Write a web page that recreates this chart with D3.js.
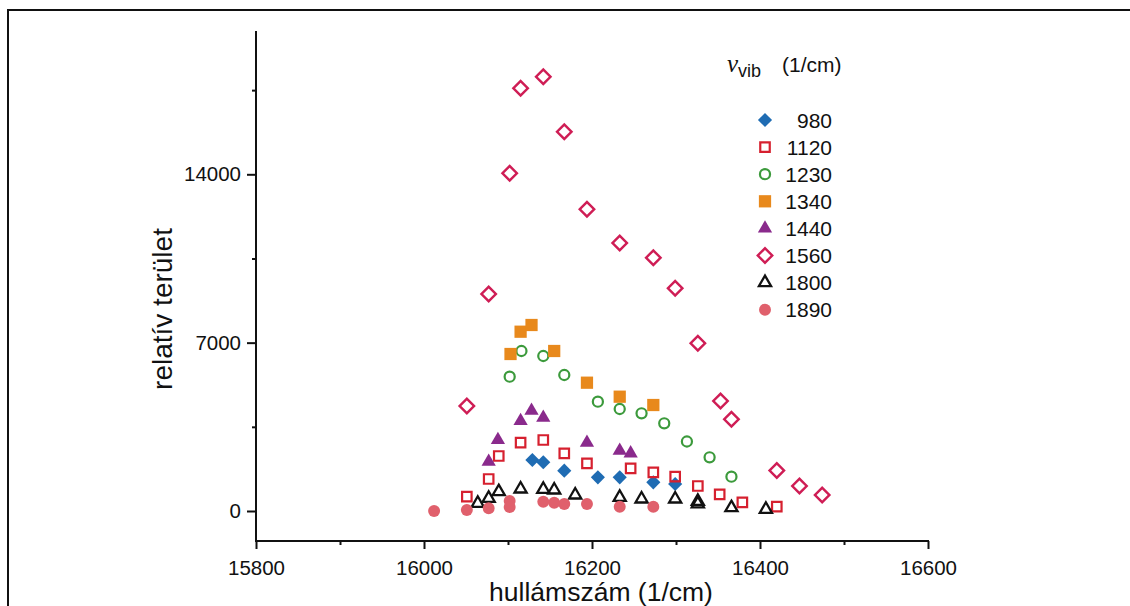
<!DOCTYPE html>
<html><head><meta charset="utf-8">
<script src="https://cdn.jsdelivr.net/npm/d3@7"></script>
<style>body{margin:0;background:#fff}svg{display:block}text{font-family:"Liberation Sans",Arial,sans-serif;fill:#111}</style>
</head><body><svg id="c" width="1130" height="606"></svg>
<script>
// ---- data ----
const seriesNames = ["980","1120","1230","1340","1440","1560","1800","1890"];
const s980 = [[16129,2121],[16142,2025],[16167,1676],[16207,1401],[16233,1401],[16273,1193],[16299,1123]];
const s1120 = [[16051,595],[16077,1331],[16089,2287],[16115,2840],[16142,2952],[16167,2399],[16194,1983],[16246,1775],[16273,1609],[16299,1426],[16326,1040],[16352,694],[16379,362],[16420,179]];
const s1230 = [[16102,5584],[16116,6653],[16142,6445],[16167,5655],[16207,4545],[16233,4241],[16259,4062],[16286,3647],[16313,2890],[16340,2233],[16366,1426]];
const s1340 = [[16103,6528],[16115,7455],[16128,7734],[16155,6653],[16194,5335],[16233,4753],[16273,4407]];
const s1440 = [[16077,2050],[16088,2952],[16115,3742],[16128,4170],[16142,3879],[16194,2840],[16233,2507],[16246,2399]];
const s1560 = [[16051,4366],[16077,9023],[16102,14042],[16115,17576],[16142,18058],[16167,15771],[16194,12545],[16233,11143],[16273,10532],[16299,9260],[16326,6973],[16353,4574],[16366,3813],[16420,1684],[16447,1040],[16474,665]];
const s1800 = [[16064,320],[16077,528],[16089,802],[16115,915],[16142,902],[16155,873],[16180,665],[16233,570],[16259,499],[16299,499],[16326,400],[16326,300],[16366,137],[16407,71]];
const s1890 = [[16012,0],[16051,42],[16077,112],[16102,416],[16102,166],[16142,387],[16155,345],[16167,291],[16194,291],[16233,179],[16273,179]];
const xMajorTicks = [15800,16000,16200,16400,16600];
const xMinorTicks = [15900,16100,16300,16500];
const yMajorTicks = [0,7000,14000];
const yMinorTicks = [3500,10500,17500];
const xTitle = "hullámszám (1/cm)";
const yTitle = "relatív terület";

// ---- styles ----
const styles = {
  "980":  {sym:"diamond", size:100, fill:"#1f6cb3", stroke:"none"},
  "1120": {sym:"square",  size:90,  fill:"none", stroke:"#d6202f", sw:2.2},
  "1230": {sym:"circle",  size:80,  fill:"none", stroke:"#3c9a3c", sw:2.2},
  "1340": {sym:"square",  size:150, fill:"#e8891c", stroke:"none"},
  "1440": {sym:"triangle",size:88,  fill:"#8a2a8c", stroke:"none"},
  "1560": {sym:"diamond", size:105, fill:"none", stroke:"#cf1d55", sw:2.4},
  "1800": {sym:"triangle",size:64,  fill:"none", stroke:"#111", sw:2.3},
  "1890": {sym:"circle",  size:112, fill:"#e0606c", stroke:"none"}
};
const dataMap = {"980":s980,"1120":s1120,"1230":s1230,"1340":s1340,"1440":s1440,"1560":s1560,"1800":s1800,"1890":s1890};

const svg = d3.select("#c");
svg.append("rect").attr("x",8).attr("y",10).attr("width",1140).attr("height",700)
  .attr("fill","none").attr("stroke","#111").attr("stroke-width",2);

const x = d3.scaleLinear().domain([15800,16600]).range([256,928]);
const y = d3.scaleLinear().domain([0,14000]).range([511,174.3]);
const yBottom = 541, yTop = 31;

function symPath(st){
  const t = st.sym==="circle"?d3.symbolCircle:st.sym==="triangle"?d3.symbolTriangle:d3.symbolSquare;
  return d3.symbol().type(t).size(st.size)();
}
function rot(st){ return st.sym==="diamond"?" rotate(45)":""; }

// axes
const xAxis = svg.append("g").attr("transform",`translate(0,${yBottom})`);
xAxis.call(d3.axisBottom(x).tickValues(xMajorTicks).tickSize(8).tickPadding(11).tickSizeOuter(0).tickFormat(d3.format("d")));
xAxis.append("g").call(d3.axisBottom(x).tickValues(xMinorTicks).tickSize(4).tickFormat(""));
xAxis.selectAll(".domain").remove();
xAxis.append("line").attr("x1",256).attr("x2",929).attr("stroke","#111").attr("stroke-width",2.5);
xAxis.selectAll("line").attr("stroke","#111").attr("stroke-width",2);
xAxis.selectAll("text").attr("font-size",20.5).style("fill","#111");

const yAxis = svg.append("g").attr("transform","translate(256,0)");
yAxis.call(d3.axisLeft(y).tickValues(yMajorTicks).tickSize(9).tickPadding(6).tickFormat(d3.format("d")));
yAxis.append("g").call(d3.axisLeft(y).tickValues(yMinorTicks).tickSize(4).tickFormat(""));
yAxis.selectAll(".domain").remove();
yAxis.append("line").attr("y1",yTop).attr("y2",yBottom+1).attr("stroke","#111").attr("stroke-width",2.5);
yAxis.selectAll("line").attr("stroke","#111").attr("stroke-width",2);
yAxis.selectAll("text").attr("font-size",20.5).style("fill","#111");

svg.append("text").attr("x",601).attr("y",601).attr("text-anchor","middle").attr("font-size",26.5).text(xTitle);
svg.append("text").attr("transform","translate(172,309) rotate(-90)").attr("text-anchor","middle").attr("font-size",28).text(yTitle);

// points
seriesNames.forEach(name=>{
  const st = styles[name];
  svg.append("g").selectAll("path").data(dataMap[name]).join("path")
    .attr("d",symPath(st))
    .attr("transform",d=>`translate(${x(d[0])},${y(d[1])})${rot(st)}`)
    .attr("fill",st.fill).attr("stroke",st.stroke).attr("stroke-width",st.sw||0);
});

// legend
const lt = svg.append("text").attr("x",727).attr("y",72).attr("font-size",21);
lt.append("tspan").attr("font-style","italic").attr("font-family","'Liberation Serif',serif").attr("font-size",25).text("ν");
lt.append("tspan").attr("font-size",18).attr("dy",5).text("vib");
lt.append("tspan").attr("dy",-5).attr("x",782).text("(1/cm)");

seriesNames.forEach((name,i)=>{
  const st = styles[name];
  const cy = 120 + i*27.1;
  const g = svg.append("g");
  g.append("path").attr("d",symPath(st)).attr("transform",`translate(765,${cy})${rot(st)}`)
   .attr("fill",st.fill).attr("stroke",st.stroke).attr("stroke-width",st.sw||0);
  g.append("text").attr("x",832).attr("y",cy).attr("dy","0.36em").attr("text-anchor","end").attr("font-size",21).text(name);
});
</script></body></html>
